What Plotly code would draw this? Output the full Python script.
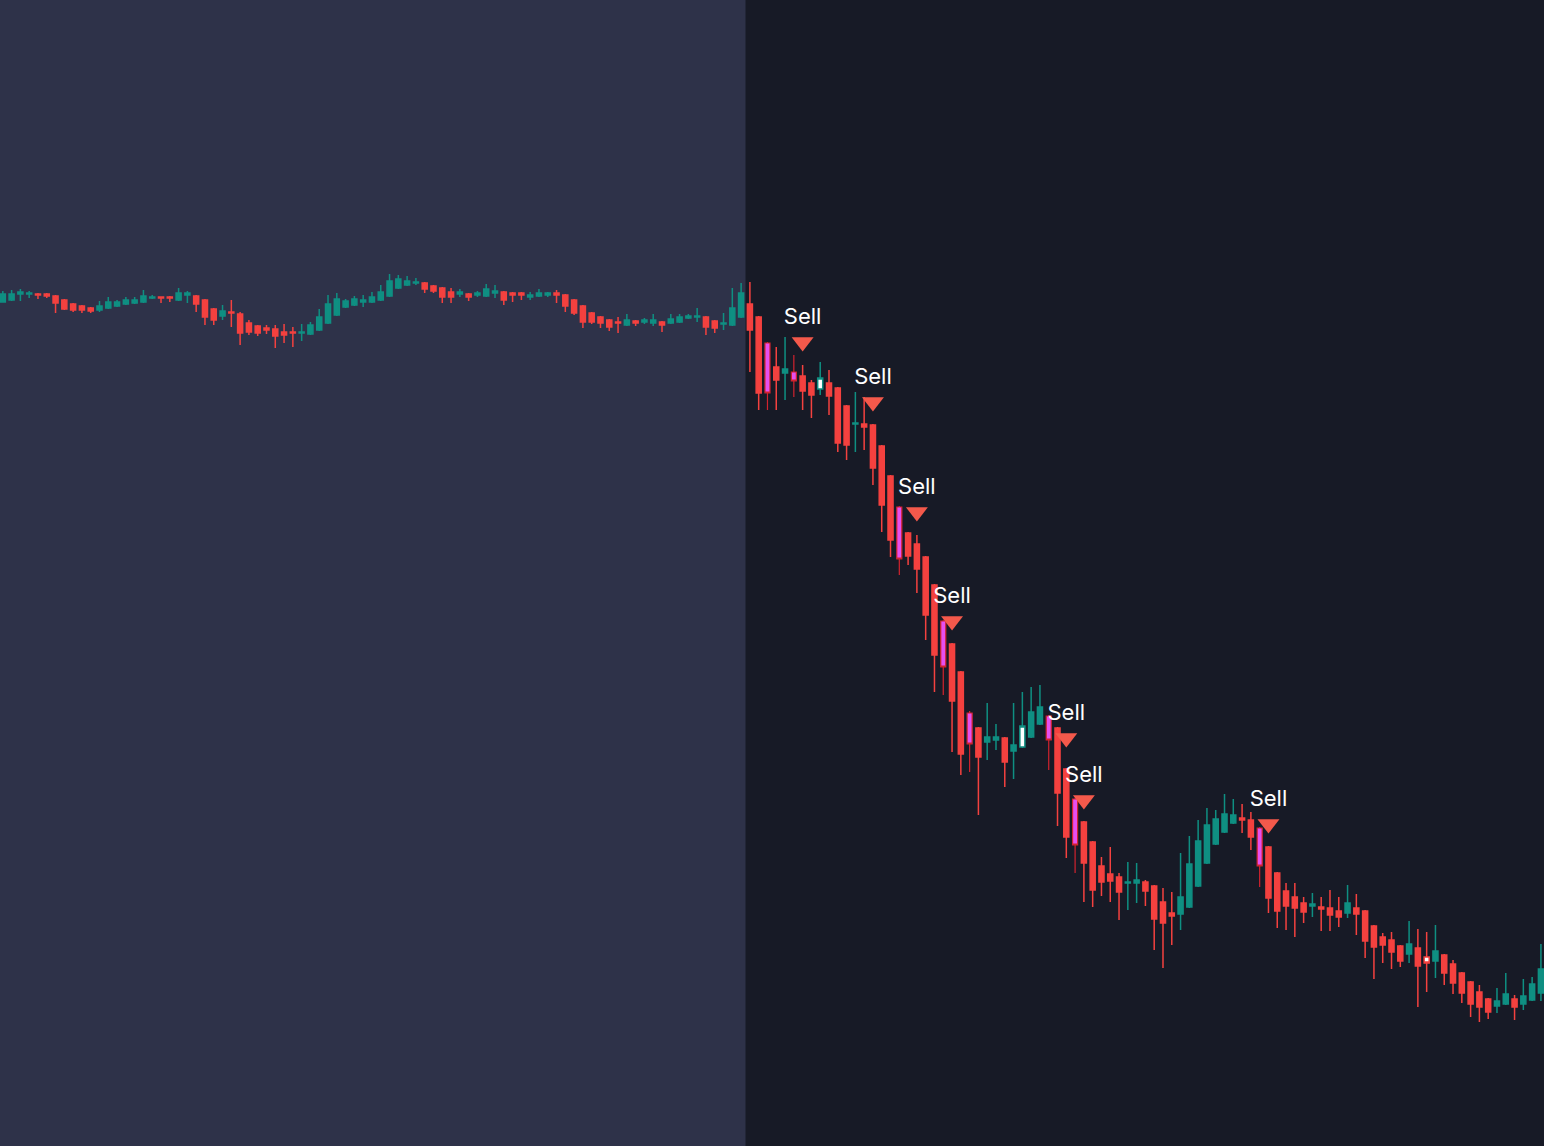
import plotly.graph_objects as go

# ---- data (price index units) ----
open_ = [898,900,906,906,906,906,904,900,896,894,892,890,892,894,896,897,898,902,903,903,
         900,905,904,900,891,884,888,886,877,874,872,871,868,868,867,866,870,877,885,893,
         895,898,898,900,904,912,915,917,917,914,912,908,906,906,905,904,907,908,907,907,
         903,904,905,907,905,900,894,887,883,880,878,875,879,878,877,878,877,878,882,883,
         883,879,876,875,883,896,883,857,833,827,828,824,817,811,817,812,794,776,776,775,
         754,724,693,667,656,643,615,579,556,528,487,472,458,460,462,449,453,463,476,484,
         472,431,401,378,358,334,326,323,317,317,318,314,298,287,286,293,314,337,356,368,
         377,382,380,372,353,327,309,303,297,294,293,292,289,287,292,289,274,263,260,254,
         246,252,243,239,245,236,227,218,208,201,194,196,201,196,200,207]
high = [909,910,911,909,907,907,905,901,897,895,893,899,903,900,903,903,910,905,903,904,
        912,909,905,901,892,895,900,888,880,875,875,875,876,873,876,878,891,905,907,901,
        904,905,908,915,926,925,924,922,918,915,913,912,911,907,909,916,915,909,908,908,
        908,911,908,910,906,901,895,888,884,881,883,886,880,882,886,879,886,886,886,892,
        884,880,887,912,917,918,884,858,853,863,845,835,820,838,830,813,795,808,803,776,
        755,725,694,668,665,644,616,580,557,529,489,473,497,476,463,497,508,513,515,485,
        473,432,402,379,359,343,353,327,338,337,320,315,312,308,347,364,380,392,390,406,
        401,396,388,373,354,328,317,317,303,307,303,310,303,315,306,290,275,267,268,255,
        279,271,268,275,246,240,228,219,215,202,212,227,205,221,223,256]
low = [898,899,899,902,901,902,887,890,888,887,887,888,891,893,895,896,897,901,897,898,
       899,897,888,875,875,880,873,855,865,864,866,852,857,853,859,865,869,876,884,892,
       894,893,897,899,903,911,914,915,907,907,897,897,903,899,903,903,902,895,898,900,
       900,903,903,897,888,885,872,876,872,869,867,874,874,876,874,868,876,877,881,878,
       865,867,870,874,882,828,790,790,790,800,803,790,782,805,785,748,740,748,750,715,
       668,643,625,635,607,560,508,505,448,425,428,385,440,450,413,421,452,462,475,430,
       374,342,327,298,293,304,298,280,290,297,294,250,232,255,270,292,313,336,355,367,
       376,367,350,313,287,272,270,263,277,283,269,269,273,282,265,242,221,237,231,233,
       237,193,208,222,215,206,197,183,178,181,187,195,180,190,199,199]
close = [906,906,908,907,905,904,897,891,890,890,889,894,898,898,900,900,904,903,902,902,
         907,907,896,883,880,889,887,867,868,867,870,864,865,867,868,875,883,896,901,899,
         901,900,903,908,919,921,919,918,911,909,903,903,908,903,907,911,909,900,905,905,
         905,907,907,905,894,887,878,878,877,873,877,880,877,880,880,875,881,883,884,884,
         873,872,877,892,907,870,807,807,820,831,819,809,805,822,804,757,755,777,773,732,
         695,660,641,644,631,585,545,533,499,446,456,443,463,463,438,455,474,488,493,460,
         407,363,355,337,310,318,319,308,318,320,309,281,277,284,303,336,359,375,381,386,
         385,380,363,334,302,289,294,292,288,296,291,285,283,297,286,259,253,255,248,239,
         256,234,237,249,227,217,207,196,193,188,199,206,193,204,216,231]

# highlighted candles
pink_idx = [87, 90, 102, 107, 110, 119, 122, 143]
white_up_idx = [93, 116]
white_down_idx = [162]

# sell signals
sell_idx = [91, 99, 104, 108, 121, 123, 144]
sell_price = [858, 798, 688, 579, 462, 400, 376]
sell_text = ["Sell"] * 7

split_x = 84.5  # boundary between the two background zones (between candles)

# ---- colors ----
UP = "#0f8f82"
DOWN = "#f4413f"
PINK = "#e64ff0"
BG_LEFT = "#2e3249"
BG_RIGHT = "#171a26"
SELL_COL = "#f4594b"

n = len(open_)
xs = list(range(n))
special = set(pink_idx) | set(white_up_idx) | set(white_down_idx)
main_idx = [i for i in xs if i not in special]


def sub(idx):
    return dict(
        x=idx,
        open=[open_[i] for i in idx],
        high=[high[i] for i in idx],
        low=[low[i] for i in idx],
        close=[close[i] for i in idx],
    )


fig = go.Figure()

fig.add_trace(go.Candlestick(
    **sub(main_idx),
    increasing=dict(line=dict(color=UP, width=1.5), fillcolor=UP),
    decreasing=dict(line=dict(color=DOWN, width=1.5), fillcolor=DOWN),
    whiskerwidth=0, hoverinfo="skip", showlegend=False,
))
fig.add_trace(go.Candlestick(
    **sub(pink_idx),
    increasing=dict(line=dict(color="#d2232e", width=1.2), fillcolor=PINK),
    decreasing=dict(line=dict(color="#d2232e", width=1.2), fillcolor=PINK),
    whiskerwidth=0, hoverinfo="skip", showlegend=False,
))
fig.add_trace(go.Candlestick(
    **sub(white_up_idx),
    increasing=dict(line=dict(color=UP, width=1.5), fillcolor="#ffffff"),
    decreasing=dict(line=dict(color=UP, width=1.5), fillcolor="#ffffff"),
    whiskerwidth=0, hoverinfo="skip", showlegend=False,
))
fig.add_trace(go.Candlestick(
    **sub(white_down_idx),
    increasing=dict(line=dict(color=DOWN, width=1.5), fillcolor="#ffffff"),
    decreasing=dict(line=dict(color=DOWN, width=1.5), fillcolor="#ffffff"),
    whiskerwidth=0, hoverinfo="skip", showlegend=False,
))

fig.add_trace(go.Scatter(
    x=sell_idx, y=sell_price, mode="markers+text",
    marker=dict(symbol="triangle-down", size=19, color=SELL_COL, line=dict(width=0)),
    text=sell_text, textposition="top center",
    textfont=dict(family="Inter, Roboto, sans-serif", size=22, color="#ffffff"),
    hoverinfo="skip", showlegend=False,
))

fig.add_shape(type="rect", xref="x", yref="paper", x0=-5, x1=split_x, y0=0, y1=1,
              fillcolor=BG_LEFT, line=dict(width=0), layer="below")

fig.update_layout(
    width=1544, height=1146,
    margin=dict(l=0, r=0, t=0, b=0),
    paper_bgcolor=BG_RIGHT, plot_bgcolor=BG_RIGHT,
    boxgap=0.18,
    xaxis=dict(range=[-0.32, 175.35], visible=False, showgrid=False,
               rangeslider=dict(visible=False), fixedrange=True),
    yaxis=dict(range=[54, 1200], visible=False, showgrid=False, fixedrange=True),
    showlegend=False,
)

fig.write_html(
    "out.html",
    config={"displayModeBar": False},
    post_script="document.body.style.margin='0';document.body.style.overflow='hidden';"
                "document.body.style.background='" + BG_RIGHT + "';",
)
